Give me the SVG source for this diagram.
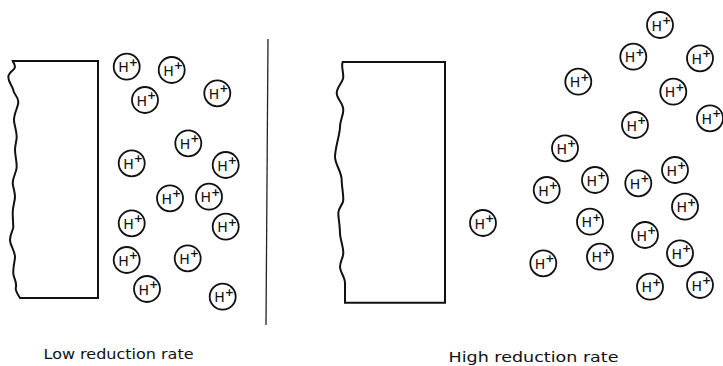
<svg xmlns="http://www.w3.org/2000/svg" xmlns:xlink="http://www.w3.org/1999/xlink" width="723" height="366" viewBox="0 0 723 366">
<style>
.ion circle{fill:none;stroke:#111;stroke-width:1.8}
.h{font-family:"DejaVu Sans","Liberation Sans",sans-serif;font-size:14px;fill:#111}
.p{font-family:"DejaVu Sans","Liberation Sans",sans-serif;font-size:11px;font-weight:bold;fill:#111}
.plate{fill:none;stroke:#111;stroke-width:2;stroke-linejoin:miter}
.lbl{font-family:"DejaVu Sans","Liberation Sans",sans-serif;font-size:14.5px;fill:#111}
</style>
<defs>
<g id="hion" class="ion">
<circle cx="0" cy="0" r="13"/>
<text class="h" x="-8.5" y="5.5">H</text>
<text class="p" x="2" y="-1">+</text>
</g>
</defs>
<rect width="723" height="366" fill="#fff"/>
<g id="left-electrode">
<path class="plate" d="M12.7,61 L98,61 L98,298 L20,298 C16,292 15,289 16,287 C17,281 13,277 13.3,273 C13,266 15,261 15,257 C15,250 10,246 10,240 C10,234 13,231 13.3,227 C13,220 12.7,216 12.7,213 C12.7,206 15,201 15,197 C15,191 12.7,187 12.7,183 C12.7,177 16.7,172 16.7,167 C16.7,160 15,155 15,150 C15,145 16.7,141 16.7,137 C16.7,130 14,125 14,120 C14,113 18.3,107 18.3,102 C18.3,96 13.3,94 13.3,90 C12,85 8.3,82 8.3,77 C8.3,72 15,70 15,67 C15,64 13,62 12.7,61 Z"/>
</g>
<g id="right-electrode">
<path class="plate" d="M342.7,62 L445,62 L445,302.7 L345,302.7 L345,283 C345,277 340,272 340,267 C340,261 343.3,258 343.3,253 C343.3,246 340,239 340,233 C340,225 338.3,219 338.3,213 C338.3,207 343.3,205 343.3,200 C343.3,193 341.7,186 341.7,180 C341.7,172 335,164 335,157 C335,148 340,134 340,127 C340,120 343.3,116 343.3,110 C343.3,103 336.7,99 336.7,93 C336.7,87 343.3,82 343.3,77 C343.3,71 341,66 342.7,62 Z"/>
</g>
<g id="divider">
<line x1="268" y1="39" x2="266" y2="325" stroke="#222" stroke-width="1.3"/>
</g>
<g id="left-ions">
<use xlink:href="#hion" x="126.7" y="66.7"/>
<use xlink:href="#hion" x="171.7" y="70"/>
<use xlink:href="#hion" x="145" y="100"/>
<use xlink:href="#hion" x="217.3" y="93.3"/>
<use xlink:href="#hion" x="188.3" y="143.3"/>
<use xlink:href="#hion" x="131.7" y="163.3"/>
<use xlink:href="#hion" x="225.7" y="165"/>
<use xlink:href="#hion" x="170" y="198.3"/>
<use xlink:href="#hion" x="209" y="196.7"/>
<use xlink:href="#hion" x="131.7" y="223.3"/>
<use xlink:href="#hion" x="225.7" y="226.7"/>
<use xlink:href="#hion" x="126.7" y="260"/>
<use xlink:href="#hion" x="187.7" y="258.3"/>
<use xlink:href="#hion" x="147" y="289"/>
<use xlink:href="#hion" x="222.7" y="296.7"/>
</g>
<g id="right-ions">
<use xlink:href="#hion" x="660" y="25"/>
<use xlink:href="#hion" x="633.3" y="56.7"/>
<use xlink:href="#hion" x="700" y="58.3"/>
<use xlink:href="#hion" x="578.3" y="81.7"/>
<use xlink:href="#hion" x="673.3" y="91.7"/>
<use xlink:href="#hion" x="710" y="118.3"/>
<use xlink:href="#hion" x="635" y="125"/>
<use xlink:href="#hion" x="565" y="148.3"/>
<use xlink:href="#hion" x="675" y="170"/>
<use xlink:href="#hion" x="595" y="180"/>
<use xlink:href="#hion" x="638.3" y="183.3"/>
<use xlink:href="#hion" x="546.7" y="190"/>
<use xlink:href="#hion" x="685" y="206.7"/>
<use xlink:href="#hion" x="483" y="223"/>
<use xlink:href="#hion" x="590" y="221.7"/>
<use xlink:href="#hion" x="645" y="235"/>
<use xlink:href="#hion" x="680" y="253.3"/>
<use xlink:href="#hion" x="543.3" y="263.3"/>
<use xlink:href="#hion" x="600" y="256.7"/>
<use xlink:href="#hion" x="650" y="286.7"/>
<use xlink:href="#hion" x="700" y="285"/>
</g>
<g id="labels">
<text class="lbl" x="43.5" y="359" textLength="150" lengthAdjust="spacingAndGlyphs">Low reduction rate</text>
<text class="lbl" x="448.5" y="362" textLength="170" lengthAdjust="spacingAndGlyphs">High reduction rate</text>
</g>
</svg>
